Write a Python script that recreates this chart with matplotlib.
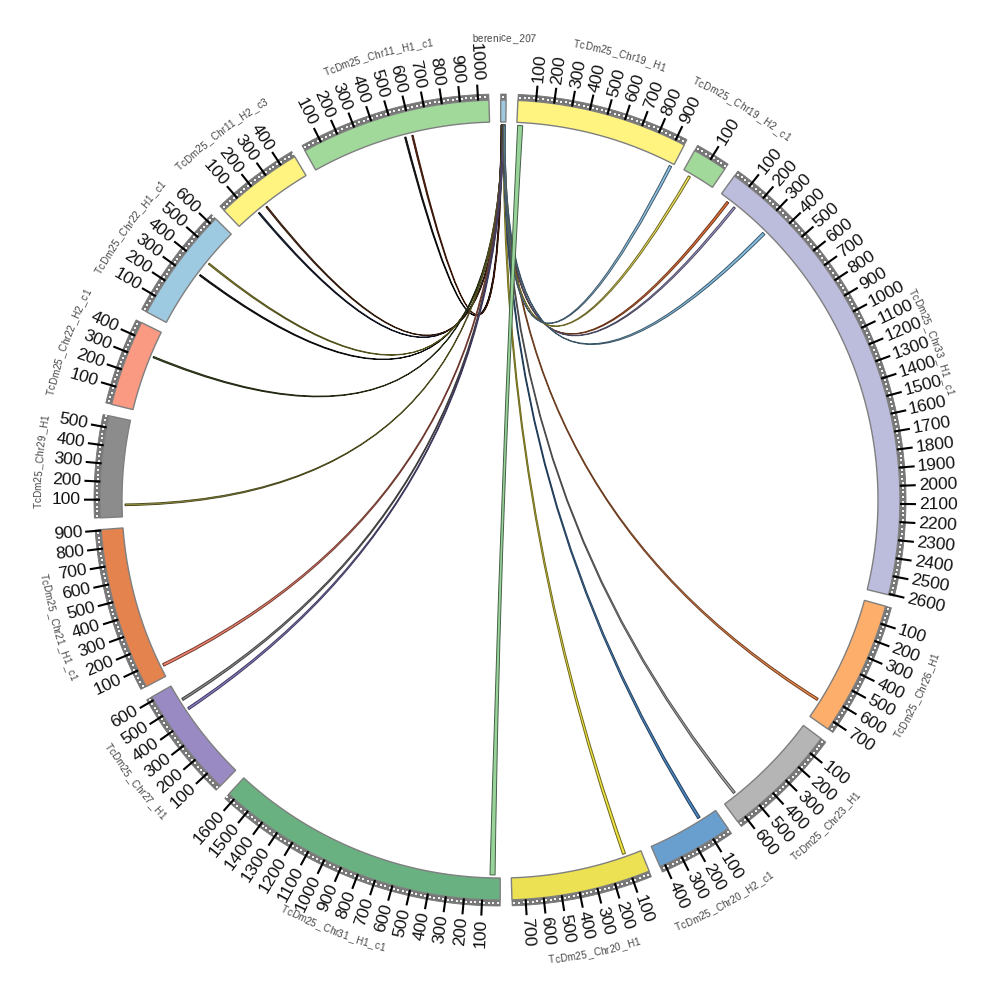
import numpy as np
import matplotlib
matplotlib.use('Agg')
import matplotlib.pyplot as plt
from matplotlib.path import Path
from matplotlib.patches import PathPatch, Polygon
from matplotlib.font_manager import FontProperties, findfont, get_font

# segments, clockwise from the top
names = ['berenice_207', 'TcDm25_Chr19_H1', 'TcDm25_Chr19_H2_c1', 'TcDm25_Chr33_H1_c1',
         'TcDm25_Chr26_H1', 'TcDm25_Chr23_H1', 'TcDm25_Chr20_H2_c1', 'TcDm25_Chr20_H1',
         'TcDm25_Chr31_H1_c1', 'TcDm25_Chr27_H1', 'TcDm25_Chr21_H1_c1', 'TcDm25_Chr29_H1',
         'TcDm25_Chr22_H2_c1', 'TcDm25_Chr22_H1_c1', 'TcDm25_Chr11_H2_c3', 'TcDm25_Chr11_H1_c1']
lengths = [30, 955, 195, 2605, 750, 650, 430, 775, 1640, 620, 905, 565, 480, 640, 490, 1060]
seg_colors = ['#9ecae1', '#fff47f', '#a1d99b', '#bcbddc', '#fdae6b', '#b5b5b5', '#699fcf',
              '#ebe152', '#6ab182', '#9a8ac4', '#e5834f', '#8c8c8c', '#fb9a83', '#9ecae1',
              '#fff47f', '#a1d99b']

# links: source segment/position -> target segment/position (units along segment)
link_src = [0] * 20 + [1]
link_src_pos = [2, 3, 4, 5, 6, 7, 8, 9, 10, 11, 12, 16, 16, 17, 17, 18, 18, 19, 19, 20, 5]
link_src_w = [6, 6, 6, 6, 6, 6, 6, 6, 8, 8, 8, 10, 8, 8, 8, 8, 8, 8, 8, 8, 30]
link_dst = [15, 15, 14, 14, 13, 13, 12, 11, 10, 9, 9, 7, 6, 5, 4, 3, 3, 3, 2, 1, 8]
link_dst_pos = [555, 598, 135, 192, 335, 420, 325, 65, 58, 512, 448, 90, 97, 558, 635,
                52, 103, 330, 40, 932, 30]
link_dst_w = [8, 8, 8, 8, 8, 8, 8, 10, 16, 14, 14, 18, 16, 14, 14, 14, 12, 18, 14, 16, 30]
link_colors = ['#1a1a1a', '#7a2e12', '#1f2a44', '#6b3a1e', '#1a1a1a', '#b5b03a', '#4b5a2a',
               '#a8a445', '#f4846e', '#8c8c8c', '#8a7cc8', '#f0e442', '#4c88c4', '#a9a9a9',
               '#f08a4b', '#e8743b', '#a49fd3', '#86bfe3', '#f2e65a', '#8ec3e4', '#98d49a']

UNITS_PER_DEG = 38.4
START = 0.1
R_IN, R_OUT, R_BAND = 378, 400, 406
R_LINK = 375
gap = (360 - sum(lengths) / UNITS_PER_DEG) / len(lengths)

seg_start = []
a = START
for L in lengths:
    seg_start.append(a)
    a += L / UNITS_PER_DEG + gap


def ang(i, pos):
    return seg_start[i] + pos / UNITS_PER_DEG


def pol(theta, r):
    t = np.radians(theta)
    return r * np.sin(t), r * np.cos(t)


def arc_pts(t0, t1, r, n=60):
    ts = np.linspace(t0, t1, n)
    return np.column_stack(pol(ts, r))


def darker(c, f=0.55):
    rgb = np.array(matplotlib.colors.to_rgb(c))
    return tuple(rgb * f)


fig = plt.figure(figsize=(10, 10), dpi=100)
ax = fig.add_axes([0, 0, 1, 1])
ax.set_xlim(-500, 500)
ax.set_ylim(-500, 500)
ax.set_aspect('equal')
ax.axis('off')

# links
for k in range(len(link_src)):
    s0 = ang(link_src[k], link_src_pos[k])
    s1 = ang(link_src[k], link_src_pos[k] + link_src_w[k])
    d0 = ang(link_dst[k], link_dst_pos[k])
    d1 = ang(link_dst[k], link_dst_pos[k] + link_dst_w[k])
    verts, codes = [], []
    verts.append(pol(s0, R_LINK)); codes.append(Path.MOVETO)
    verts += [(0, 0), pol(d1, R_LINK)]; codes += [Path.CURVE3, Path.CURVE3]
    for p in arc_pts(d1, d0, R_LINK, 8)[1:]:
        verts.append(tuple(p)); codes.append(Path.LINETO)
    verts += [(0, 0), pol(s1, R_LINK)]; codes += [Path.CURVE3, Path.CURVE3]
    for p in arc_pts(s1, s0, R_LINK, 8)[1:]:
        verts.append(tuple(p)); codes.append(Path.LINETO)
    codes[-1] = Path.CLOSEPOLY
    ax.add_patch(PathPatch(Path(verts, codes), facecolor=link_colors[k],
                           edgecolor=darker(link_colors[k], 0.45), lw=0.7, zorder=2))

tick_font = FontProperties(family='Liberation Sans', size=12.5)
NAME_SIZE = 7.2
name_font = FontProperties(family='Liberation Sans', size=NAME_SIZE)
ft = get_font(findfont(name_font))
ft.set_size(NAME_SIZE, 72)


def char_w(ch):
    g = ft.load_char(ord(ch))
    w = g.linearHoriAdvance / 65536 * 100 / 72
    if ch == '_':
        w += 2.0
    return w


for i, L in enumerate(lengths):
    t0, t1 = ang(i, 0), ang(i, L)
    # grey band and bar
    band = np.vstack([arc_pts(t0, t1, R_OUT), arc_pts(t1, t0, R_BAND)])
    ax.add_patch(Polygon(band, closed=True, facecolor='#777777', edgecolor='#777777',
                         lw=0.6, zorder=3))
    bar = np.vstack([arc_pts(t0, t1, R_IN), arc_pts(t1, t0, R_OUT)])
    ax.add_patch(Polygon(bar, closed=True, facecolor=seg_colors[i], edgecolor='#7f7f7f',
                         lw=1.0, zorder=4))
    # minor tick dots
    dots = np.arange(12, L, 25)
    if len(dots):
        dx, dy = pol(ang(i, dots), 403.0)
        ax.scatter(dx, dy, s=0.7, c='#f2f2f2', marker='s', lw=0, zorder=5)
    # major ticks and labels
    for v in range(100, L + 1, 100):
        th = ang(i, v)
        x0, y0 = pol(th, R_OUT)
        x1, y1 = pol(th, 416)
        ax.plot([x0, x1], [y0, y1], color='black', lw=1.5, zorder=6, solid_capstyle='butt')
        xt, yt = pol(th, 419)
        thn = th % 360
        if thn < 180:
            rot, ha = 90 - thn, 'left'
        else:
            rot, ha = 270 - thn, 'right'
        ax.text(xt, yt, str(v), rotation=rot, ha=ha, va='center', rotation_mode='anchor',
                fontproperties=tick_font, color='#111111', zorder=7)
    # curved segment name
    name = names[i]
    mid = (t0 + t1) / 2 % 360
    cw = not (90 < mid < 270)
    r_base = 458.5 if cw else 466
    widths = [char_w(ch) for ch in name]
    total = sum(widths)
    acc = 0.0
    for j, ch in enumerate(name):
        off = acc + widths[j] / 2 - total / 2
        acc += widths[j]
        th = mid + (1 if cw else -1) * np.degrees(off / r_base)
        rot = -th if cw else 180 - th
        xc, yc = pol(th, r_base)
        ax.text(xc, yc, ch, rotation=rot, ha='center', va='baseline', rotation_mode='anchor',
                fontproperties=name_font, color='#454545', zorder=7)

fig.savefig('out.png', dpi=100, facecolor='white')
